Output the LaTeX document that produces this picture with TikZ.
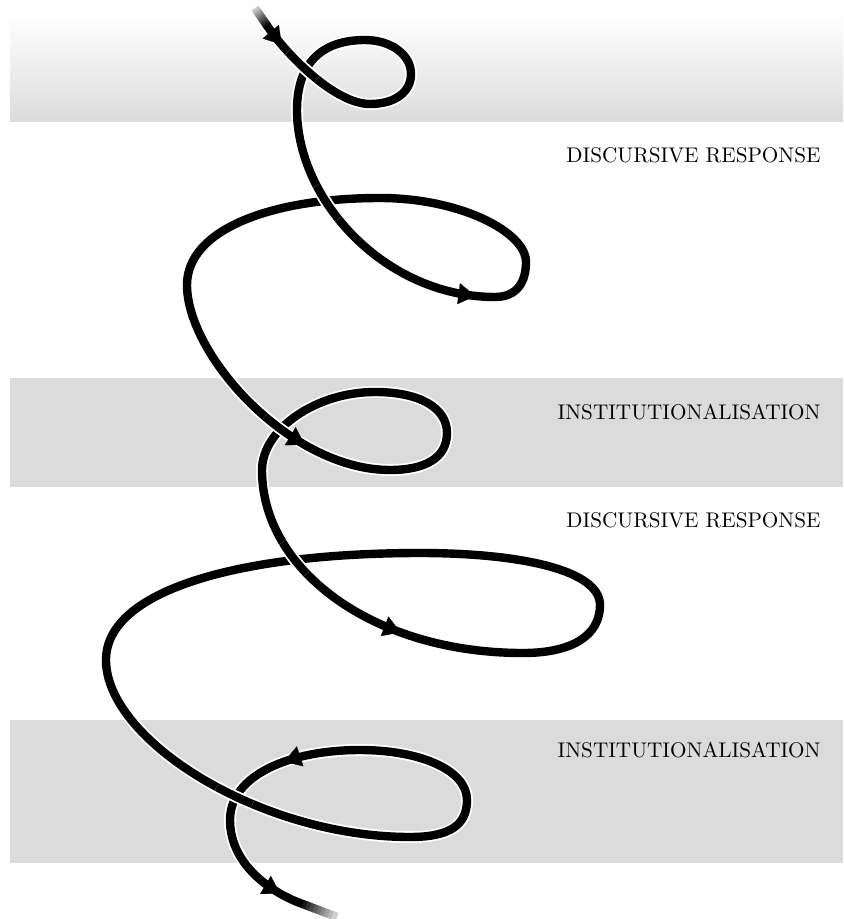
\documentclass[tikz,border=0pt]{standalone}
\usepackage{fontspec}
\usetikzlibrary{arrows.meta, calc}

% the stretches of the spiral, in pixel coordinates (y downwards)
\newcommand\turnA{(268,27) .. controls +(19,28) and +(-35,0) .. (370,104)
  coordinate[pos=0.15] (a1b) coordinate[pos=0.19] (a1) coordinate[pos=0.4] (x1)}
\newcommand\turnB{(370,104) .. controls +(25,0) and +(0,18) .. (411,74)
  .. controls +(0,-20) and +(25,0) .. (365,40)
  .. controls +(-45,0) and +(0,-45) .. (297,110)}
\newcommand\turnC{(297,110) .. controls +(0,90) and +(-110,0) .. (495,297)
  coordinate[pos=0.35] (x2) coordinate[pos=0.91] (a2b) coordinate[pos=0.94] (a2)}
\newcommand\turnD{(495,297) .. controls +(22,0) and +(0,20) .. (526,262)
  .. controls +(0,-30) and +(80,0) .. (380,198)
  .. controls +(-110,0) and +(0,-55) .. (187,285)}
\newcommand\turnE{(187,285) .. controls +(0,70) and +(-100,0) .. (390,470)
  coordinate[pos=0.62] (x3) coordinate[pos=0.68] (a3b) coordinate[pos=0.71] (a3)}
\newcommand\turnF{(390,470) .. controls +(35,0) and +(0,25) .. (447,433)
  .. controls +(0,-25) and +(45,0) .. (375,392)
  .. controls +(-60,0) and +(0,-40) .. (262,470)}
\newcommand\turnG{(262,470) .. controls +(0,100) and +(-150,0) .. (523,653)
  coordinate[pos=0.32] (x4) coordinate[pos=0.67] (a4b) coordinate[pos=0.70] (a4)}
\newcommand\turnH{(523,653) .. controls +(50,0) and +(0,30) .. (600,605)
  .. controls +(0,-35) and +(100,0) .. (420,553)
  .. controls +(-180,0) and +(0,-70) .. (106,660)}
\newcommand\turnI{(106,660) .. controls +(0,80) and +(-150,0) .. (410,837)
  coordinate[pos=0.59] (x5)}
\newcommand\turnJ{(410,837) .. controls +(40,0) and +(0,25) .. (467,800)
  .. controls +(0,-30) and +(60,0) .. (360,750)
  .. controls +(-70,0) and +(0,-45) .. (230,820)
  coordinate[pos=0.36] (a5b) coordinate[pos=0.40] (a5)}
\newcommand\turnK{(230,820) .. controls +(0,45) and +(-28,-10.5) .. (300,903)
  coordinate[pos=0.74] (a6b) coordinate[pos=0.78] (a6)}

\begin{document}
\begin{tikzpicture}[
      x=0.5pt, y=-0.5pt, % pixel grid, y downwards
      strip/.style={fill=black!14, draw=none},
      halo/.style={draw=white, line width=6pt, line cap=butt},
      rope/.style={draw=black, line width=4.2pt, line cap=butt, line join=round},
      arrowmark/.style={-{Triangle[length=8.5pt,width=10.5pt]}, black, line width=0.1pt},
      stage/.style={anchor=east, inner sep=0pt, text=black,
                    font=\fontsize{10.6}{12}\selectfont\addfontfeatures{FakeBold=1.6}},
    ]
    \useasboundingbox (0,0) rectangle (843,919);

    % ---- bands ----------------------------------------------------------
    \shade[top color=white, bottom color=black!14] (10,15) rectangle (843,122);
    \fill[strip] (10,378) rectangle (843,487);
    \fill[strip] (10,720) rectangle (843,863);

    % ---- stages ---------------------------------------------------------
    \node[stage] (resp1) at (821,155) {DISCURSIVE RESPONSE};
    \node[stage] (inst1) at (821,412) {INSTITUTIONALISATION};
    \node[stage] (resp2) at (821,520) {DISCURSIVE RESPONSE};
    \node[stage] (inst2) at (821,750) {INSTITUTIONALISATION};

    % ---- the spiral -----------------------------------------------------
    \draw[rope, preaction={halo}] \turnA \turnB \turnC \turnD \turnE \turnF
      \turnG \turnH \turnI \turnJ \turnK;

    % ---- earlier turns pass over later ones ------------------------------
    \foreach \cut/\over in {x1/\turnA, x2/\turnC, x3/\turnE, x4/\turnG, x5/\turnI}{%
      \begin{scope}
        \clip (\cut) circle (20);
        \draw[rope, preaction={halo}] \over;
      \end{scope}
    }

    % ---- faded ends -------------------------------------------------------
    \coordinate (in0) at (255,8);
    \coordinate (in1) at (268,27);
    \coordinate (out1) at (300,903);
    \coordinate (out2) at (337,917);
    \foreach \k in {0,...,9}{%
      \pgfmathtruncatemacro\tone{20+8.9*\k}
      \draw[rope, draw=black!\tone] ($(in0)!\k/10!(in1)$) -- ($(in0)!{(\k+1.3)/10}!(in1)$);
      \pgfmathtruncatemacro\tone{100-8.9*\k}
      \draw[rope, draw=black!\tone] ($(out1)!{(\k-0.3)/10}!(out2)$) -- ($(out1)!{(\k+1)/10}!(out2)$);
    }

    % ---- direction marks --------------------------------------------------
    \foreach \k in {1,...,6}{%
      \draw[arrowmark] (a\k b) -- (a\k);
    }
  \end{tikzpicture}
\end{document}
